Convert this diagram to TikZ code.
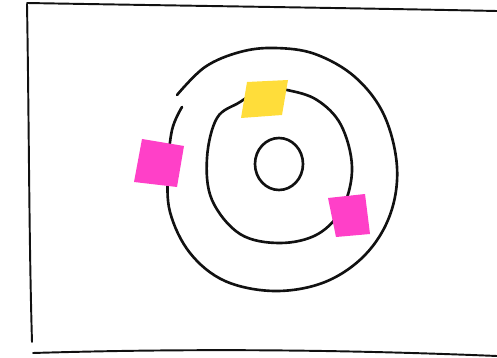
\documentclass[tikz,border=0pt]{standalone}
\usepackage{tikz}
\definecolor{Ink}{HTML}{111111}
\definecolor{NoteYellow}{HTML}{FFDD3A}
\definecolor{NoteMagenta}{HTML}{FF40C8}

\begin{document}
\begin{tikzpicture}[
  x=0.02cm,y=-0.02cm,
  frame/.style={draw=Ink,line width=1.1pt,line cap=round},
  ring/.style={draw=Ink,line width=1.5pt,line cap=round},
  note/.style={draw=none}
]
\useasboundingbox (0,0) rectangle (497,358);
% sheet edges
\draw[frame] (27,3) .. controls (200,6) and (350,8) .. (497,11);
\draw[frame] (27,4) .. controls (29,120) and (29,240) .. (32,342);
\draw[frame] (33,353) .. controls (200,348) and (350,350) .. (497,356);
% outer turn, open at the top left
\draw[ring] plot[smooth,tension=0.6] coordinates {(177,95) (205,67) (240,52) (275,48) (315,54) (355,77) (384,115) (397,167) (390,215) (365,255) (325,282) (275,291) (225,281) (190,253) (170,212) (168,170) (172,130) (182,107)};
% middle turn
\draw[ring] plot[smooth,tension=0.6] coordinates {(262,88) (287,90) (317,100) (341,125) (352,167) (343,207) (318,234) (280,243) (240,234) (212,200) (207,158) (217,118) (240,102) (262,88)};
% centre
\draw[ring] (279,164) ellipse (24 and 26);
% sticky notes
\fill[NoteYellow,note] (247,82) -- (288,80) -- (282,115) -- (241,118) -- cycle;
\fill[NoteMagenta,note] (142,139) -- (184,146) -- (177,187) -- (134,182) -- cycle;
\fill[NoteMagenta,note] (328,198) -- (365,194) -- (370,234) -- (336,237) -- cycle;
\end{tikzpicture}
\end{document}
